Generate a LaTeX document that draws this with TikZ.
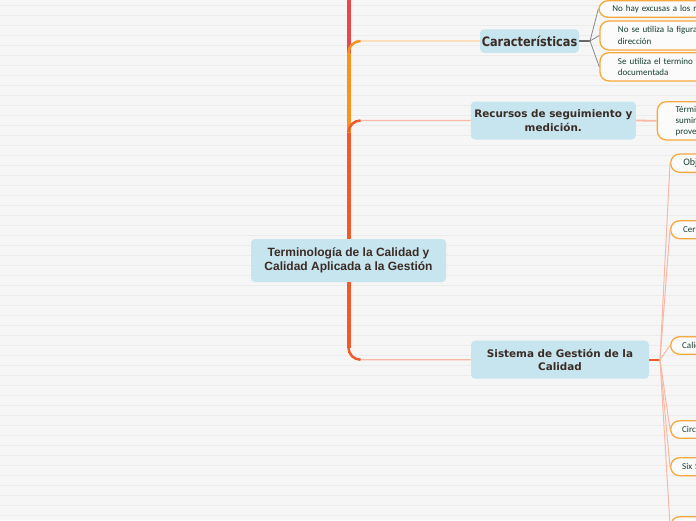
\documentclass[tikz,border=0pt]{standalone}
\usepackage{fontspec}
\newfontfamily\ctrfont{Liberation Sans}
\newfontfamily\topicfont{DejaVu Sans}
\newfontfamily\carfont{DejaVu Sans}[FakeStretch=0.87]
\newfontfamily\leaffont{Carlito}

\definecolor{paper}{HTML}{F6F6F6}
\definecolor{rule}{HTML}{ECECEC}
\definecolor{topicblue}{HTML}{C6E5EF}
\definecolor{topictext}{HTML}{3B2B25}
\definecolor{leaftext}{HTML}{163F2E}
\definecolor{leafline}{HTML}{F9A93C}
\definecolor{brred}{HTML}{E8474B}
\definecolor{brorange}{HTML}{F7941D}
\definecolor{brcoral}{HTML}{F15B2C}
\definecolor{lightorange}{HTML}{FCD39E}
\definecolor{lightcoral}{HTML}{F7B9A6}
\definecolor{fangray}{HTML}{6A6A6A}

\begin{document}
\begin{tikzpicture}[x=1pt, y=-1pt,
    topic/.style={fill=topicblue, rounded corners=4pt, text=topictext, align=center, inner sep=0pt},
    leaf/.style={draw=leafline, line width=1.3pt, fill=white!60!paper, rounded corners=9pt,
        text=leaftext, font=\leaffont\fontsize{9}{11.5}\selectfont, align=left, anchor=west,
        inner xsep=12pt, inner ysep=0pt, text width=300pt},
    trunk/.style={line width=4pt},
    twig/.style={line width=1.2pt}]
    \useasboundingbox (0,0) rectangle (696,520);
    % ruled paper
    \fill[paper] (0,0) rectangle (696,520);
    \foreach \y in {5,15,...,515}
        \draw[rule, line width=0.9pt] (0,\y) -- (696,\y);

    % Main topics
    \node[topic, minimum width=195pt, minimum height=43pt,
        font=\ctrfont\bfseries\fontsize{12}{14.4}\selectfont] (ctr) at (348.5,260.5)
        {Terminología de la Calidad y\\Calidad Aplicada a la Gestión};
    \node[topic, minimum width=99pt, minimum height=23.5pt,
        font=\carfont\bfseries\fontsize{13}{15}\selectfont] (car) at (529.5,41) {Características};
    \node[topic, minimum width=165pt, minimum height=38pt,
        font=\topicfont\bfseries\fontsize{10.4}{13.4}\selectfont] (rec) at (553.3,120.5)
        {Recursos de seguimiento y\\medición.};
    \node[topic, minimum width=178pt, minimum height=38pt,
        font=\topicfont\bfseries\fontsize{10.4}{13.4}\selectfont] (sis) at (560,359.7)
        {Sistema de Gestión de la\\Calidad};

    % Leaves of Características
    \node[leaf, minimum height=16.6pt, inner xsep=13.4pt] (l1) at (598.3,9)
        {No hay excusas a los requisitos};
    \node[leaf, minimum height=29pt, inner xsep=18pt] (l2) at (599.3,35.5)
        {No se utiliza la figura de representante de la\\dirección};
    \node[leaf, minimum height=28.3pt, inner xsep=18pt] (l3) at (599.3,66.8)
        {Se utiliza el termino de información\\documentada};
    % Leaf of Recursos
    \node[leaf, minimum height=38.3pt, inner xsep=18.3pt, font=\leaffont\fontsize{9}{11}\selectfont] (r1) at (656.7,120.8)
        {Término que sustituye a\\suministrador por\\proveedor};
    % Leaves of Sistema
    \node[leaf, minimum height=18.3pt, inner xsep=12.7pt, font=\leaffont\fontsize{10}{12}\selectfont] (s1) at (670,163.2) {Objetivos};
    \node[leaf, minimum height=18pt, inner xsep=12.5pt] (s2) at (670,229.7) {Certificación};
    \node[leaf, minimum height=17.6pt, inner xsep=11.5pt] (s3) at (670,345.5) {Calidad Total};
    \node[leaf, minimum height=17.6pt, inner xsep=11.5pt] (s4) at (670,429.5) {Circulos de Calidad};
    \node[leaf, minimum height=18pt, inner xsep=11.5pt] (s5) at (670,466.7) {Six Sigma};
    \node[leaf, minimum height=18pt] (s6) at (670,525.7) {};

    % Branch leaving at the top
    \coordinate (up) at (348.5,-30);
    \draw[trunk, brred] (ctr.north) -- (up);
    % Branch to Características
    \draw[twig, lightorange, rounded corners=12pt] (ctr.north) |- (car.west);
    \draw[trunk, brorange] (ctr.north) -- ([yshift=-12pt]ctr.north |- car.west);
    \draw[line width=2.5pt, brorange, rounded corners=12pt]
        ([yshift=-12pt]ctr.north |- car.west) |- ([xshift=12pt]ctr.north |- car.west);
    % Branch to Recursos
    \draw[twig, lightcoral, rounded corners=12pt] (ctr.north) |- (rec.west);
    \draw[trunk, brcoral] (ctr.north) -- ([yshift=-12pt]ctr.north |- rec.west);
    \draw[line width=2.5pt, brcoral, rounded corners=12pt]
        ([yshift=-12pt]ctr.north |- rec.west) |- ([xshift=12pt]ctr.north |- rec.west);
    % Branch to Sistema
    \draw[twig, lightcoral, rounded corners=12pt] (ctr.south) |- (sis.west);
    \draw[trunk, brcoral] (ctr.south) -- ([yshift=12pt]ctr.south |- sis.west);
    \draw[line width=2.5pt, brcoral, rounded corners=12pt]
        ([yshift=12pt]ctr.south |- sis.west) |- ([xshift=12pt]ctr.south |- sis.west);

    % Fan of Características
    \coordinate (cj) at (590,41);
    \draw[fangray, line width=1.5pt] (car.east) -- (cj);
    \foreach \n in {l1,l2,l3}
        \draw[fangray!80, line width=0.8pt] (cj) -- (\n.west);
    % Recursos
    \draw[lightcoral, line width=1.8pt] (rec.east) -- (r1.west);
    % Fan of Sistema
    \coordinate (sj) at (660,359.7);
    \draw[brcoral, line width=2pt] (sis.east) -- (sj);
    \foreach \n in {s1,s2,s3,s4,s5,s6}
        \draw[lightcoral, line width=1pt] (sj) -- (\n.west);
\end{tikzpicture}
\end{document}
